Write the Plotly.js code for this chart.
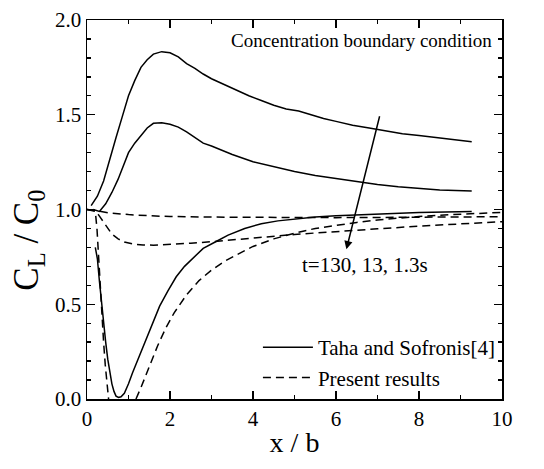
<!DOCTYPE html>
<html>
<head>
<meta charset="utf-8">
<script src="https://cdn.plot.ly/plotly-3.0.1.min.js"></script>
<style>html,body{margin:0;padding:0;background:#fff;}#chart{width:544px;height:469px;}</style>
</head>
<body>
<div id="chart"></div>
<script>
// Taha and Sofronis[4] (solid), t = 130 s
const taha130X = [0.1, 0.25, 0.4, 0.55, 0.7, 0.85, 1.0, 1.15, 1.3, 1.45, 1.6, 1.8, 2.0, 2.2, 2.4, 2.6, 2.8, 3.0, 3.3, 3.6, 3.9, 4.2, 4.5, 4.8, 5.1, 5.4, 5.7, 6.0, 6.4, 6.8, 7.2, 7.6, 8.0, 8.4, 8.8, 9.27];
const taha130Y = [1.02, 1.07, 1.15, 1.27, 1.38, 1.49, 1.60, 1.68, 1.75, 1.79, 1.82, 1.833, 1.827, 1.805, 1.77, 1.745, 1.715, 1.69, 1.66, 1.63, 1.60, 1.575, 1.55, 1.53, 1.52, 1.50, 1.48, 1.465, 1.445, 1.43, 1.415, 1.40, 1.39, 1.38, 1.37, 1.358];
// t = 13 s
const taha13X = [0.15, 0.3, 0.45, 0.6, 0.75, 0.9, 1.0, 1.15, 1.3, 1.45, 1.6, 1.8, 2.0, 2.2, 2.4, 2.6, 2.8, 3.0, 3.5, 4.0, 4.5, 5.0, 5.5, 6.0, 6.5, 7.0, 7.5, 8.0, 8.5, 9.27];
const taha13Y = [1.0, 0.99, 1.03, 1.09, 1.16, 1.25, 1.30, 1.35, 1.39, 1.43, 1.455, 1.458, 1.45, 1.435, 1.41, 1.38, 1.35, 1.335, 1.29, 1.252, 1.225, 1.20, 1.18, 1.163, 1.148, 1.132, 1.12, 1.11, 1.103, 1.098];
// t = 1.3 s
const taha1X = [0.2, 0.25, 0.3, 0.35, 0.4, 0.45, 0.5, 0.55, 0.6, 0.65, 0.7, 0.76, 0.82, 0.9, 1.0, 1.1, 1.25, 1.4, 1.55, 1.75, 1.95, 2.15, 2.35, 2.55, 2.8, 3.1, 3.4, 3.8, 4.2, 4.6, 5.0, 5.5, 6.0, 7.0, 8.0, 9.27];
const taha1Y = [0.80, 0.74, 0.62, 0.50, 0.40, 0.30, 0.21, 0.14, 0.08, 0.04, 0.015, 0.008, 0.012, 0.03, 0.08, 0.14, 0.22, 0.30, 0.38, 0.49, 0.57, 0.645, 0.70, 0.74, 0.795, 0.83, 0.865, 0.90, 0.925, 0.94, 0.95, 0.96, 0.967, 0.977, 0.984, 0.989];

// Present results (dashed)
const pres130X = [0, 0.2, 0.5, 1.0, 1.5, 2.0, 3.0, 4.0, 5.0, 6.0, 7.0, 8.0, 9.0, 10.0];
const pres130Y = [1.0, 0.995, 0.983, 0.973, 0.967, 0.963, 0.96, 0.958, 0.957, 0.957, 0.958, 0.96, 0.961, 0.962];
const pres13X = [0.0, 0.2, 0.3, 0.4, 0.5, 0.6, 0.75, 0.9, 1.1, 1.35, 1.6, 2.0, 2.5, 3.0, 3.5, 4.0, 4.5, 5.0, 5.5, 6.0, 7.0, 8.0, 9.0, 10.0];
const pres13Y = [1.0, 0.995, 0.965, 0.935, 0.9, 0.87, 0.845, 0.828, 0.818, 0.813, 0.812, 0.815, 0.822, 0.83, 0.84, 0.85, 0.86, 0.868, 0.876, 0.884, 0.898, 0.912, 0.924, 0.936];
const pres1X = [0, 0.2, 0.24, 0.27, 0.3, 0.33, 0.36, 0.4, 0.44, 0.48, 0.52, null, 1.18, 1.3, 1.5, 1.7, 1.9, 2.1, 2.4, 2.7, 3.0, 3.3, 3.6, 4.0, 4.5, 5.0, 5.5, 6.0, 6.5, 7.0, 7.5, 8.0, 8.5, 9.0, 9.5, 10.0];
const pres1Y = [1.0, 0.99, 0.9, 0.78, 0.66, 0.54, 0.43, 0.30, 0.18, 0.08, 0.0, null, 0.0, 0.06, 0.17, 0.28, 0.375, 0.455, 0.55, 0.625, 0.68, 0.725, 0.76, 0.805, 0.845, 0.875, 0.9, 0.918, 0.932, 0.945, 0.955, 0.963, 0.97, 0.976, 0.981, 0.985];

const legendNames = ["Taha and Sofronis[4]", "Present results"];
const timeLabel = "t=130, 13, 1.3s";
const conditionLabel = "Concentration boundary condition";
const xTitle = "x / b";
const yTitle = "C<sub>L</sub> / C<sub>0</sub>";
const arrowTail = [7.06, 1.50];
const arrowHead = [6.25, 0.79];

const FONT = "'Liberation Serif', 'Times New Roman', serif";
const solid = {color: "#000", width: 1.5};
const dashed = {color: "#000", width: 1.5, dash: "8px,5px"};

const traces = [
  {x: taha130X, y: taha130Y, mode: "lines", line: solid, name: legendNames[0], showlegend: true},
  {x: pres130X, y: pres130Y, mode: "lines", line: dashed, name: legendNames[1], showlegend: true},
  {x: taha13X, y: taha13Y, mode: "lines", line: solid, name: legendNames[0], showlegend: false},
  {x: taha1X, y: taha1Y, mode: "lines", line: solid, name: legendNames[0], showlegend: false},
  {x: pres13X, y: pres13Y, mode: "lines", line: dashed, name: legendNames[1], showlegend: false},
  {x: pres1X, y: pres1Y, mode: "lines", line: dashed, name: legendNames[1], showlegend: false, connectgaps: false}
];

const axisCommon = {
  showline: true, linecolor: "#000", linewidth: 1.5, mirror: "ticks",
  ticks: "inside", ticklen: 8, tickwidth: 1.3, tickcolor: "#000",
  showgrid: false, zeroline: false,
  tickfont: {family: FONT, size: 21, color: "#000"}
};

const layout = {
  width: 544, height: 469,
  margin: {l: 87, r: 42, t: 20, b: 70},
  paper_bgcolor: "#fff", plot_bgcolor: "#fff",
  font: {family: FONT, color: "#000"},
  xaxis: Object.assign({}, axisCommon, {
    range: [0, 10], dtick: 2, tick0: 0,
    minor: {dtick: 1, ticks: "inside", ticklen: 4, tickwidth: 1.3, tickcolor: "#000"},
    title: {text: xTitle, font: {family: FONT, size: 28, color: "#000"}, standoff: 2}
  }),
  yaxis: Object.assign({}, axisCommon, {
    range: [0, 2], dtick: 0.5, tick0: 0, tickformat: ".1f",
    minor: {dtick: 0.1, ticks: "inside", ticklen: 4, tickwidth: 1.3, tickcolor: "#000"},
    title: {text: yTitle + "&nbsp;&nbsp;&nbsp;&nbsp;&nbsp;&nbsp;&nbsp;", font: {family: FONT, size: 35, color: "#000"}, standoff: 6}
  }),
  showlegend: true,
  legend: {
    x: 0.995, xanchor: "right", y: 0.19, yanchor: "top",
    bgcolor: "rgba(0,0,0,0)", borderwidth: 0,
    font: {family: FONT, size: 21, color: "#000"},
    tracegroupgap: 0, itemwidth: 50
  },
  annotations: [
    {x: 9.8, y: 1.894, xref: "x", yref: "y", text: conditionLabel, showarrow: false, xanchor: "right", yanchor: "middle",
     font: {family: FONT, size: 19, color: "#000"}},
    {x: 6.69, y: 0.707, xref: "x", yref: "y", text: timeLabel, showarrow: false, xanchor: "center", yanchor: "middle",
     font: {family: FONT, size: 21, color: "#000"}},
    {x: arrowHead[0], y: arrowHead[1], ax: arrowTail[0], ay: arrowTail[1], xref: "x", yref: "y", axref: "x", ayref: "y",
     text: "", showarrow: true, arrowhead: 2, arrowsize: 1.1, arrowwidth: 1.5, arrowcolor: "#000"}
  ]
};

Plotly.newPlot("chart", traces, layout, {staticPlot: true, displayModeBar: false});
</script>
</body>
</html>
